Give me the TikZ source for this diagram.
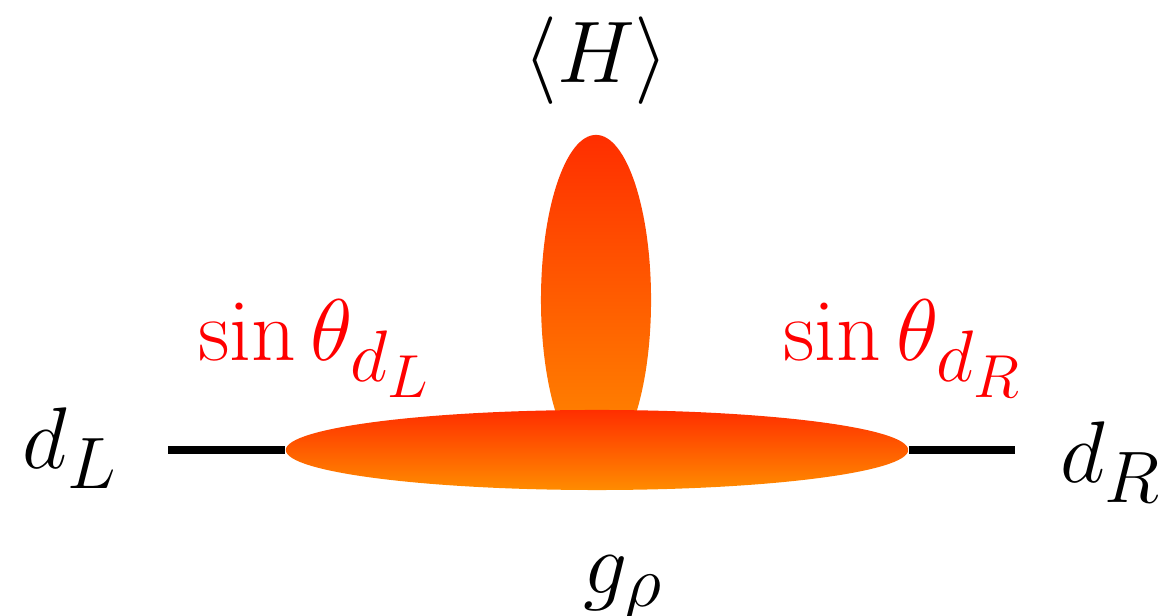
\documentclass[tikz,border=0pt]{standalone}
\usepackage{xcolor}
\definecolor{cTop}{HTML}{FF2E00}
\definecolor{cBot}{HTML}{FF8C00}
\definecolor{cMix}{HTML}{FF0000}
\usetikzlibrary{shapes.geometric}
\tikzset{
  blob/.style={ellipse,inner sep=0pt,draw=none,top color=cTop,bottom color=cBot},
  leg/.style={line width=2pt,draw=black},
  lbl/.style={inner sep=0pt,font=\Huge},
  lbl-mix/.style={lbl,text=cMix},
}

\begin{document}
\begin{tikzpicture}[x=0.01cm,y=0.01cm]
  \useasboundingbox (0,0) rectangle (1165,616);
  % blobs
  \node[blob,minimum width=1.1cm,minimum height=3.3cm]   (vev)  at (596,316) {};
  \node[blob,minimum width=6.22cm,minimum height=0.8cm]  (core) at (597,166) {};
  % external legs
  \coordinate (inL)  at (168,166);
  \coordinate (outR) at (1015,166);
  \draw[leg] (inL) -- (core.west);
  \draw[leg] (core.east) -- (outR);
  % labels
  \node[lbl]     (dl)   at (70,168)   {$d_L$};
  \node[lbl]     (dr)   at (1111,154) {$d_R$};
  \node[lbl]     (higgs) at (596,555) {$\langle H\rangle$};
  \node[lbl]     (grho) at (623,28)   {$g_\rho$};
  \node[lbl-mix] (mixL) at (315,267)  {$\sin\theta_{d_L}$};
  \node[lbl-mix] (mixR) at (903,267)  {$\sin\theta_{d_R}$};
\end{tikzpicture}
\end{document}
